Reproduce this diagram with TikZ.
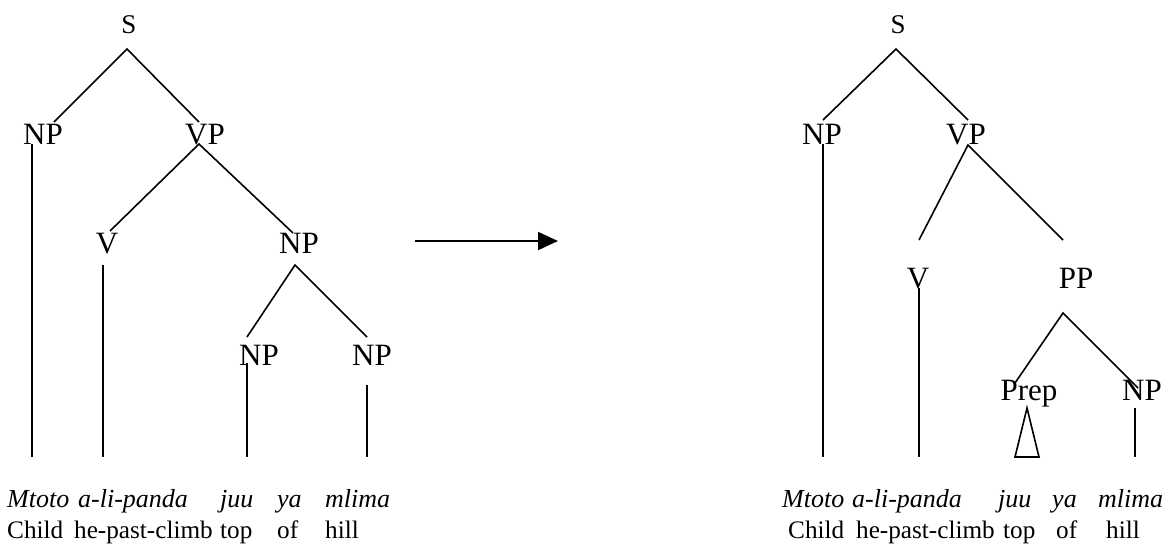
\documentclass[tikz,border=0pt]{standalone}
\usepackage{fontspec}
\setmainfont{Liberation Serif}
\usetikzlibrary{arrows.meta}
\begin{document}
\begin{tikzpicture}[x=1pt,y=-1pt,
  lab/.style={font=\fontsize{31}{31}\selectfont,inner sep=0pt,anchor=base},
  root/.style={font=\fontsize{27}{27}\selectfont,inner sep=0pt,anchor=base},
  sw/.style={font=\fontsize{26}{26}\selectfont\itshape,inner sep=0pt,anchor=base west},
  gl/.style={font=\fontsize{25.2}{25.2}\selectfont,inner sep=0pt,anchor=base west},
  branch/.style={draw=black,line width=1.6pt}]
\useasboundingbox (0,0) rectangle (1168,544);

% ---------- first tree ----------
\node[root] (Sa) at (129,33) {S};
\node[lab] (NPa) at (43,144) {NP};
\node[lab] (VPa) at (205,144) {VP};
\node[lab] (Va) at (107,253) {V};
\node[lab] (NPb) at (299,253) {NP};
\node[lab] (NPc) at (259,365) {NP};
\node[lab] (NPd) at (372,365) {NP};

\coordinate (Sa-f) at (127,49);
\coordinate (NPa-t) at (54,122);
\coordinate (VPa-t) at (199,122);
\coordinate (NPa-f) at (32,144);
\coordinate (NPa-e) at (32,457);
\coordinate (VPa-f) at (199,144);
\coordinate (Va-t) at (110,231);
\coordinate (NPb-t) at (293,233);
\coordinate (Va-f) at (103,265);
\coordinate (Va-e) at (103,457);
\coordinate (NPb-f) at (295,265);
\coordinate (NPc-t) at (247,337);
\coordinate (NPd-t) at (367,337);
\coordinate (NPc-f) at (247,363);
\coordinate (NPc-e) at (247,457);
\coordinate (NPd-f) at (367,385);
\coordinate (NPd-e) at (367,457);

\draw[branch] (NPa-t) -- (Sa-f) -- (VPa-t);
\draw[branch] (NPa-f) -- (NPa-e);
\draw[branch] (Va-t) -- (VPa-f) -- (NPb-t);
\draw[branch] (Va-f) -- (Va-e);
\draw[branch] (NPc-t) -- (NPb-f) -- (NPd-t);
\draw[branch] (NPc-f) -- (NPc-e);
\draw[branch] (NPd-f) -- (NPd-e);

\node[sw] (w1a) at (7,507) {Mtoto};
\node[sw] (w2a) at (78,507) {a-li-panda};
\node[sw] (w3a) at (220,507) {juu};
\node[sw] (w4a) at (277,507) {ya};
\node[sw] (w5a) at (325,507) {mlima};
\node[gl] (g1a) at (7,538) {Child};
\node[gl] (g2a) at (74,538) {he-past-climb};
\node[gl] (g3a) at (220,538) {top};
\node[gl] (g4a) at (277,538) {of};
\node[gl] (g5a) at (325,538) {hill};

% ---------- arrow ----------
\coordinate (arr-s) at (415,241);
\coordinate (arr-e) at (558,241);
\draw[line width=2pt,-{Triangle[length=20pt,width=18pt]}] (arr-s) -- (arr-e);

% ---------- second tree ----------
\node[root] (Sb) at (898,33) {S};
\node[lab] (NPe) at (822,144) {NP};
\node[lab] (VPb) at (966,144) {VP};
\node[lab] (Vb) at (918,288) {V};
\node[lab] (PPa) at (1076,288) {PP};
\node[lab] (Prep) at (1029,400) {Prep};
\node[lab] (NPf) at (1142,400) {NP};

\coordinate (Sb-f) at (896,49);
\coordinate (NPe-t) at (823,120);
\coordinate (VPb-t) at (968,120);
\coordinate (NPe-f) at (823,144);
\coordinate (NPe-e) at (823,457);
\coordinate (VPb-f) at (968,145);
\coordinate (Vb-t) at (919,240);
\coordinate (PPa-t) at (1063,240);
\coordinate (Vb-f) at (919,288);
\coordinate (Vb-e) at (919,457);
\coordinate (PPa-f) at (1063,313);
\coordinate (Prep-t) at (1015,383);
\coordinate (NPf-t) at (1138,388);
\coordinate (tri-a) at (1027,408);
\coordinate (tri-l) at (1015,457);
\coordinate (tri-r) at (1039,457);
\coordinate (NPf-f) at (1135,408);
\coordinate (NPf-e) at (1135,457);

\draw[branch] (NPe-t) -- (Sb-f) -- (VPb-t);
\draw[branch] (NPe-f) -- (NPe-e);
\draw[branch] (Vb-t) -- (VPb-f) -- (PPa-t);
\draw[branch] (Vb-f) -- (Vb-e);
\draw[branch] (Prep-t) -- (PPa-f) -- (NPf-t);
\draw[branch,line join=miter] (tri-a) -- (tri-l) -- (tri-r) -- cycle;
\draw[branch] (NPf-f) -- (NPf-e);

\node[sw] (w1b) at (782,507) {Mtoto};
\node[sw] (w2b) at (852,507) {a-li-panda};
\node[sw] (w3b) at (998,507) {juu};
\node[sw] (w4b) at (1052,507) {ya};
\node[sw] (w5b) at (1098,507) {mlima};
\node[gl] (g1b) at (788,538) {Child};
\node[gl] (g2b) at (856,538) {he-past-climb};
\node[gl] (g3b) at (1003,538) {top};
\node[gl] (g4b) at (1056,538) {of};
\node[gl] (g5b) at (1106,538) {hill};
\end{tikzpicture}
\end{document}
